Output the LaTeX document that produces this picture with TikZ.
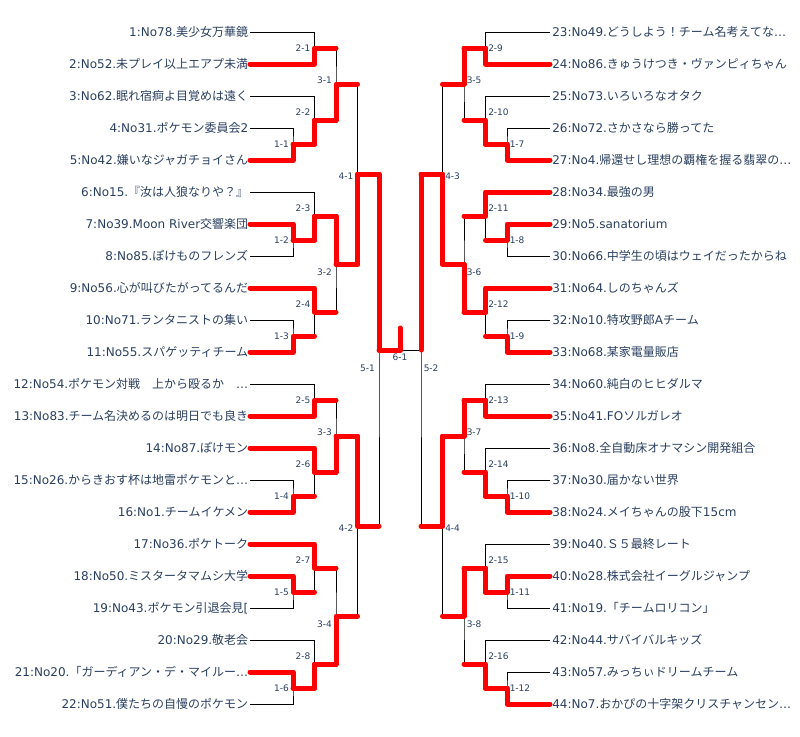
\documentclass[tikz,border=0pt]{standalone}
\usepackage{fontspec}
\setmainfont{DejaVu Sans}
\newfontfamily\jp{Noto Sans CJK JP}
\newcommand\J[1]{{\jp #1}}
\definecolor{txt}{HTML}{2A3F5F}
\begin{document}
\begin{tikzpicture}[x=0.75pt,y=-0.75pt,
  thinline/.style={draw=black,line width=0.75pt},
  redline/.style={draw=red,line width=3.75pt,line cap=round,line join=round},
  teamL/.style={anchor=base east,inner sep=0pt,text=txt,font=\fontsize{9}{10}\selectfont},
  teamR/.style={anchor=base west,inner sep=0pt,text=txt,font=\fontsize{9}{10}\selectfont},
  mlabL/.style={anchor=base east,inner sep=0pt,text=txt,font=\fontsize{6.75}{7}\selectfont},
  mlabR/.style={anchor=base west,inner sep=0pt,text=txt,font=\fontsize{6.75}{7}\selectfont},
  mlabC/.style={anchor=base,inner sep=0pt,text=txt,font=\fontsize{6.75}{7}\selectfont}]
\useasboundingbox (0,0) rectangle (800,736);

% leaf points
\foreach \i in {1,...,22} \coordinate (t\i) at (250,{32+32*(\i-1)});
\foreach \i in {23,...,44} \coordinate (t\i) at (550,{32+32*(\i-23)});

% match points (left)
\coordinate (m11) at (293,144);  \coordinate (m12) at (293,240);
\coordinate (m13) at (293,336);  \coordinate (m14) at (293,496);
\coordinate (m15) at (293,592);  \coordinate (m16) at (293,688);
\coordinate (m21) at (314.5,48);  \coordinate (m22) at (314.5,120);
\coordinate (m23) at (314.5,216); \coordinate (m24) at (314.5,312);
\coordinate (m25) at (314.5,400); \coordinate (m26) at (314.5,472);
\coordinate (m27) at (314.5,568); \coordinate (m28) at (314.5,664);
\coordinate (m31) at (336,84);  \coordinate (m32) at (336,264);
\coordinate (m33) at (336,436); \coordinate (m34) at (336,616);
\coordinate (m41) at (357.5,174); \coordinate (m42) at (357.5,526);
\coordinate (m51) at (379,350);
\coordinate (m61) at (400,350);
\coordinate (champ) at (400,328);
% match points (right)
\coordinate (m17) at (507,144);  \coordinate (m18) at (507,240);
\coordinate (m19) at (507,336);  \coordinate (m110) at (507,496);
\coordinate (m111) at (507,592); \coordinate (m112) at (507,688);
\coordinate (m29) at (485.5,48);   \coordinate (m210) at (485.5,120);
\coordinate (m211) at (485.5,216); \coordinate (m212) at (485.5,312);
\coordinate (m213) at (485.5,400); \coordinate (m214) at (485.5,472);
\coordinate (m215) at (485.5,568); \coordinate (m216) at (485.5,664);
\coordinate (m35) at (464,84);  \coordinate (m36) at (464,264);
\coordinate (m37) at (464,436); \coordinate (m38) at (464,616);
\coordinate (m43) at (442.5,174); \coordinate (m44) at (442.5,526);
\coordinate (m52) at (421,350);

% black brackets
\foreach \m/\a/\b in {m11/t4/t5, m12/t7/t8, m13/t10/t11, m14/t15/t16, m15/t18/t19, m16/t21/t22,
  m21/t1/t2, m22/t3/m11, m23/t6/m12, m24/t9/m13, m25/t12/t13, m26/t14/m14, m27/t17/m15, m28/t20/m16,
  m31/m21/m22, m32/m23/m24, m33/m25/m26, m34/m27/m28, m41/m31/m32, m42/m33/m34, m51/m41/m42,
  m17/t26/t27, m18/t29/t30, m19/t32/t33, m110/t37/t38, m111/t40/t41, m112/t43/t44,
  m29/t23/t24, m210/t25/m17, m211/t28/m18, m212/t31/m19, m213/t34/t35, m214/t36/m110, m215/t39/m111, m216/t42/m112,
  m35/m29/m210, m36/m211/m212, m37/m213/m214, m38/m215/m216, m43/m35/m36, m44/m37/m38, m52/m43/m44}
  \draw[thinline] (\a) -| (\m) |- (\b);
\draw[thinline] (m51) -- (m52);

% red winner paths
\foreach \m/\w/\p in {m11/t5/m22, m12/t7/m23, m13/t11/m24, m14/t16/m26, m15/t18/m27, m16/t21/m28,
  m21/t2/m31, m22/m11/m31, m23/m12/m32, m24/t9/m32, m25/t13/m33, m26/t14/m33, m27/t17/m34, m28/m16/m34,
  m31/m22/m41, m32/m23/m41, m33/m26/m42, m34/m28/m42, m41/m32/m51, m42/m33/m51, m51/m41/m61,
  m17/t27/m210, m18/t29/m211, m19/t33/m212, m110/t38/m214, m111/t40/m215, m112/t44/m216,
  m29/t24/m35, m210/m17/m35, m211/t28/m36, m212/t31/m36, m213/t35/m37, m214/m110/m37, m215/m111/m38, m216/m112/m38,
  m35/m29/m43, m36/m212/m43, m37/m213/m44, m38/m215/m44, m43/m36/m52, m44/m37/m52}
  \draw[redline] (\w) -| (\m) -- (\p |- \m);
\draw[redline] (m43) -| (m52);
\draw[redline] (m51) -| (m61) -- (champ);

% match labels (left)
\foreach \n/\x/\k/\t in {l21/310.5/0/2-1, l31/332/1/3-1, l22/310.5/2/2-2, l11/289/3/1-1, l41/353.5/4/4-1,
  l23/310.5/5/2-3, l12/289/6/1-2, l32/332/7/3-2, l24/310.5/8/2-4, l13/289/9/1-3, l51/375/10/5-1,
  l25/310.5/11/2-5, l33/332/12/3-3, l26/310.5/13/2-6, l14/289/14/1-4, l42/353.5/15/4-2,
  l27/310.5/16/2-7, l15/289/17/1-5, l34/332/18/3-4, l28/310.5/19/2-8, l16/289/20/1-6}
  \node[mlabL] (\n) at (\x,{51.6+32*\k}) {\t};
% match labels (right)
\foreach \n/\x/\k/\t in {l29/488/0/2-9, l35/466.5/1/3-5, l210/488/2/2-10, l17/509.5/3/1-7, l43/445/4/4-3,
  l211/488/5/2-11, l18/509.5/6/1-8, l36/466.5/7/3-6, l212/488/8/2-12, l19/509.5/9/1-9, l52/423.5/10/5-2,
  l213/488/11/2-13, l37/466.5/12/3-7, l214/488/13/2-14, l110/509.5/14/1-10, l44/445/15/4-4,
  l215/488/16/2-15, l111/509.5/17/1-11, l38/466.5/18/3-8, l216/488/19/2-16, l112/509.5/20/1-12}
  \node[mlabR] (\n) at (\x,{51.6+32*\k}) {\t};
\node[mlabC] (l61) at (400,360.5) {6-1};

% team labels (left)
\node[teamL] (n1) at (248.5,36.5) {1:No78.\J{美少女万華鏡}};
\node[teamL] (n2) at (248.5,68.5) {2:No52.\J{未プレイ以上エアプ未満}};
\node[teamL] (n3) at (248.5,100.5) {3:No62.\J{眠れ宿痾よ目覚めは遠く}};
\node[teamL] (n4) at (248.5,132.5) {4:No31.\J{ポケモン委員会}2};
\node[teamL] (n5) at (248.5,164.5) {5:No42.\J{嫌いなジャガチョイさん}};
\node[teamL] (n6) at (248.5,196.5) {6:No15.\J{『汝は人狼なりや？』}};
\node[teamL] (n7) at (248.5,228.5) {7:No39.Moon River\J{交響楽団}};
\node[teamL] (n8) at (248.5,260.5) {8:No85.\J{ぽけものフレンズ}};
\node[teamL] (n9) at (248.5,292.5) {9:No56.\J{心が叫びたがってるんだ}};
\node[teamL] (n10) at (248.5,324.5) {10:No71.\J{ランタニストの集い}};
\node[teamL] (n11) at (248.5,356.5) {11:No55.\J{スパゲッティチーム}};
\node[teamL] (n12) at (248.5,388.5) {12:No54.\J{ポケモン対戦　上から殴るか　}…};
\node[teamL] (n13) at (248.5,420.5) {13:No83.\J{チーム名決めるのは明日でも良き}};
\node[teamL] (n14) at (248.5,452.5) {14:No87.\J{ぽけモン}};
\node[teamL] (n15) at (248.5,484.5) {15:No26.\J{からきおす杯は地雷ポケモンと}…};
\node[teamL] (n16) at (248.5,516.5) {16:No1.\J{チームイケメン}};
\node[teamL] (n17) at (248.5,548.5) {17:No36.\J{ポケトーク}};
\node[teamL] (n18) at (248.5,580.5) {18:No50.\J{ミスタータマムシ大学}};
\node[teamL] (n19) at (248.5,612.5) {19:No43.\J{ポケモン引退会見}[};
\node[teamL] (n20) at (248.5,644.5) {20:No29.\J{敬老会}};
\node[teamL] (n21) at (248.5,676.5) {21:No20.\J{「ガーディアン・デ・マイルー}…};
\node[teamL] (n22) at (248.5,708.5) {22:No51.\J{僕たちの自慢のポケモン}};
% team labels (right)
\node[teamR] (n23) at (552,36.5) {23:No49.\J{どうしよう！チーム名考えてな}…};
\node[teamR] (n24) at (552,68.5) {24:No86.\J{きゅうけつき・ヴァンピィちゃん}};
\node[teamR] (n25) at (552,100.5) {25:No73.\J{いろいろなオタク}};
\node[teamR] (n26) at (552,132.5) {26:No72.\J{さかさなら勝ってた}};
\node[teamR] (n27) at (552,164.5) {27:No4.\J{帰還せし理想の覇権を握る翡翠の}…};
\node[teamR] (n28) at (552,196.5) {28:No34.\J{最強の男}};
\node[teamR] (n29) at (552,228.5) {29:No5.sanatorium};
\node[teamR] (n30) at (552,260.5) {30:No66.\J{中学生の頃はウェイだったからね}};
\node[teamR] (n31) at (552,292.5) {31:No64.\J{しのちゃんズ}};
\node[teamR] (n32) at (552,324.5) {32:No10.\J{特攻野郎}A\J{チーム}};
\node[teamR] (n33) at (552,356.5) {33:No68.\J{某家電量販店}};
\node[teamR] (n34) at (552,388.5) {34:No60.\J{純白のヒヒダルマ}};
\node[teamR] (n35) at (552,420.5) {35:No41.FO\J{ソルガレオ}};
\node[teamR] (n36) at (552,452.5) {36:No8.\J{全自動床オナマシン開発組合}};
\node[teamR] (n37) at (552,484.5) {37:No30.\J{届かない世界}};
\node[teamR] (n38) at (552,516.5) {38:No24.\J{メイちゃんの股下}15cm};
\node[teamR] (n39) at (552,548.5) {39:No40.\J{Ｓ５最終レート}};
\node[teamR] (n40) at (552,580.5) {40:No28.\J{株式会社イーグルジャンプ}};
\node[teamR] (n41) at (552,612.5) {41:No19.\J{「チームロリコン」}};
\node[teamR] (n42) at (552,644.5) {42:No44.\J{サバイバルキッズ}};
\node[teamR] (n43) at (552,676.5) {43:No57.\J{みっちぃドリームチーム}};
\node[teamR] (n44) at (552,708.5) {44:No7.\J{おかぴの十字架クリスチャンセン}…};
\end{tikzpicture}
\end{document}
